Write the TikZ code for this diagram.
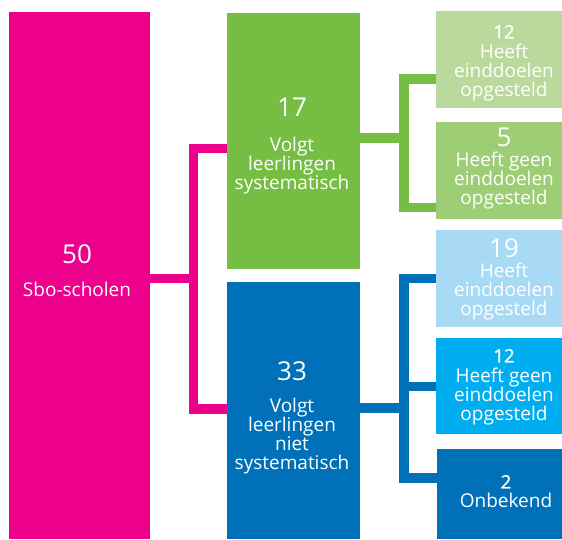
\documentclass[tikz,border=0pt]{standalone}
\usepackage{fontspec}
\setmainfont{Open Sans}
\newfontfamily\semibfont{Open Sans}[FakeBold=1.5]
\definecolor{cpink}{HTML}{EC008C}
\definecolor{cgreen}{HTML}{76BE43}
\definecolor{clgreen}{HTML}{B9DA9C}
\definecolor{cmgreen}{HTML}{9DCD75}
\definecolor{clblue}{HTML}{A8DAF5}
\definecolor{ccyan}{HTML}{00AEEF}
\definecolor{cblue}{HTML}{0070B9}
\newcommand{\bignum}{\fontsize{26}{26}\selectfont}
\newcommand{\smallnum}{\semibfont\fontsize{18.5}{19}\selectfont}
\begin{document}
\begin{tikzpicture}[x=1pt,y=-1pt,
  box/.style={inner sep=0pt, outer sep=0pt, anchor=north west},
  txt/.style={inner sep=0pt, outer sep=0pt, text=white, align=center,
    font=\fontsize{19}{19}\selectfont, anchor=north},
  conn/.style={line width=9.5pt, line join=miter, line cap=butt}]
\useasboundingbox (0,0) rectangle (562,539);
\clip (0,0) rectangle (562,539);
% main boxes
\node[box, fill=cpink, minimum width=141, minimum height=527] (pink) at (9,12) {};
\node[box, fill=cgreen, minimum width=133, minimum height=256] (green) at (227,13) {};
\node[box, fill=cblue, minimum width=133, minimum height=257] (blue) at (227,282) {};
% right boxes
\node[box, fill=clgreen, minimum width=136, minimum height=97] (g1) at (436,11) {};
\node[box, fill=cmgreen, minimum width=136, minimum height=97] (g2) at (436,122) {};
\node[box, fill=clblue, minimum width=136, minimum height=97] (b1) at (436,230) {};
\node[box, fill=ccyan, minimum width=136, minimum height=96] (b2) at (436,338) {};
\node[box, fill=cblue, minimum width=136, minimum height=90] (b3) at (437,449) {};
% texts
\node[txt] (tpink) at (77,245) {{\bignum 50}\\[14pt]Sbo-scholen};
\node[txt] (tgreen) at (292,98) {{\bignum 17}\\[16pt]Volgt\\leerlingen\\systematisch};
\node[txt] (tblue) at (292,362) {{\bignum 33}\\[13pt]Volgt\\leerlingen\\niet\\systematisch};
\node[txt] (tg1) at (504,25) {{\smallnum 12}\\[1pt]Heeft\\einddoelen\\opgesteld};
\node[txt] (tg2) at (504,128) {{\bignum 5}\\[1pt]Heeft geen\\einddoelen\\opgesteld};
\node[txt] (tb1) at (504,239) {{\bignum 19}\\[1pt]Heeft\\einddoelen\\opgesteld};
\node[txt] (tb2) at (504,349) {{\smallnum 12}\\[1pt]Heeft geen\\einddoelen\\opgesteld};
\node[txt] (tb3) at (506,475) {{\smallnum 2}\\[0pt]Onbekend};
% connectors
\draw[conn, cpink] (pink.east |- 0,278.5) -- (193.5,278.5);
\draw[conn, cpink] (green.west |- 0,148.5) -| (193.5,409) -- (blue.west |- 0,409);
\draw[conn, cgreen] (green.east |- 0,138) -- (404,138);
\draw[conn, cgreen] (g1.west |- 0,79) -| (404,207.5) -- (g2.west |- 0,207.5);
\draw[conn, cblue] (blue.east |- 0,408) -- (404,408);
\draw[conn, cblue] (b1.west |- 0,278.5) -| (404,478) -- (b3.west |- 0,478);
\draw[conn, cblue] (404,386.5) -- (b2.west |- 0,386.5);
\end{tikzpicture}
\end{document}
